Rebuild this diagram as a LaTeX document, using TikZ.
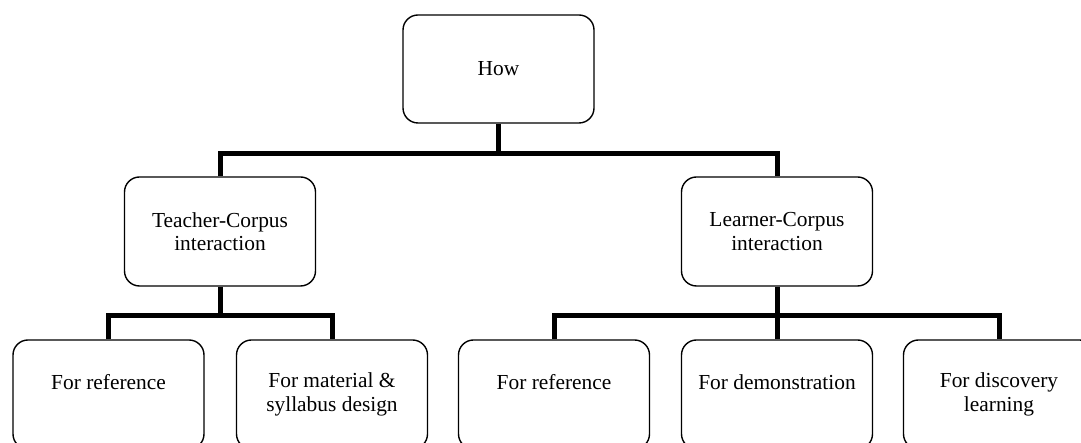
\documentclass[tikz,border=0pt]{standalone}
\usepackage{fontspec}
\setmainfont{Liberation Serif}
\begin{document}
\begin{tikzpicture}[x=1pt,y=1pt,
  box/.style={draw=black, line width=1.4pt, rounded corners=15pt, fill=white,
    minimum width=191pt, minimum height=109pt, align=center, inner sep=2pt,
    font=\fontsize{21.4pt}{23.5pt}\selectfont},
  high/.style={text height=15pt, text depth=24pt},
  conn/.style={draw=black, line width=5pt}]
\useasboundingbox (0,0) rectangle (1081,443);
% top
\node[box, minimum height=108pt] (how) at (498.5,374) {How};
% level 2
\node[box] (tc) at (220,211.5) {Teacher-Corpus\\interaction};
\node[box] (lc) at (777,211.5) {Learner-Corpus\\interaction};
% level 3
\node[box, high] (a1) at (108.5,48.5) {For reference};
\node[box] (a2) at (332,48.5) {For material \&\\syllabus design};
\node[box, high] (b1) at (554,48.5) {For reference};
\node[box, high] (b2) at (777,48.5) {For demonstration};
\node[box] (b3) at (999,48.5) {For discovery\\learning};
% junctions
\coordinate (j1) at (498.5,289.5);
\coordinate (j2) at (220,127);
\coordinate (j3) at (777,127);
% connectors
\draw[conn] (how.south) -- (j1);
\draw[conn] (tc.north) |- (j1) -| (lc.north);
\draw[conn] (tc.south) -- (j2);
\draw[conn] (a1.north) |- (j2) -| (a2.north);
\draw[conn] (lc.south) -- (j3);
\draw[conn] (b1.north) |- (j3) -| (b3.north);
\draw[conn] (b2.north) -- (j3);
\end{tikzpicture}
\end{document}
